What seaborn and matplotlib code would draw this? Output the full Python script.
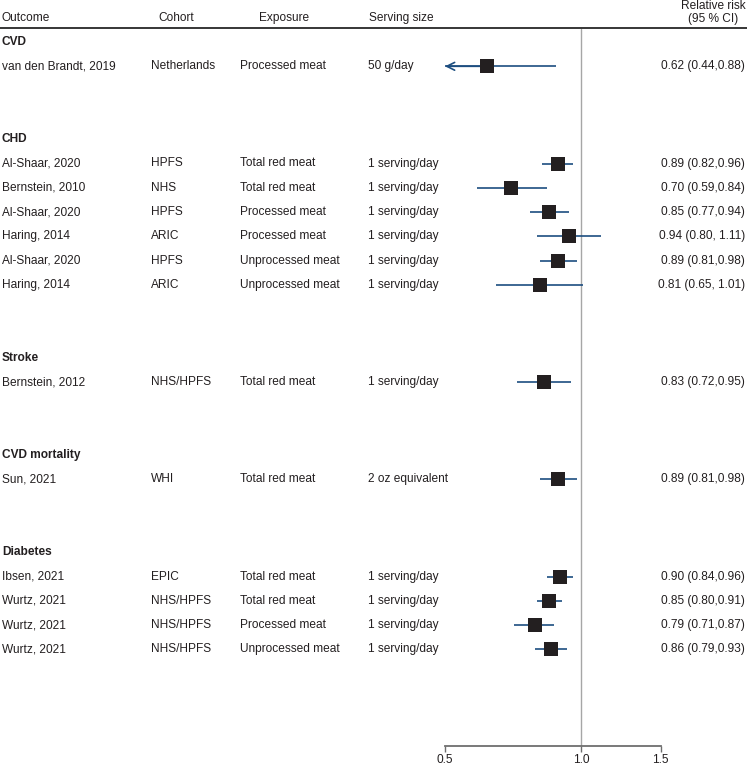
import numpy as np
import pandas as pd
import matplotlib
matplotlib.use("Agg")
import matplotlib.pyplot as plt
import matplotlib.transforms as mtransforms
import seaborn as sns

# datos del forest plot
grupos = ["CVD", "CHD", "Stroke", "CVD mortality", "Diabetes"]
n_por_grupo = [1, 6, 1, 1, 4]
estudios = ["van den Brandt, 2019", "Al-Shaar, 2020", "Bernstein, 2010", "Al-Shaar, 2020",
            "Haring, 2014", "Al-Shaar, 2020", "Haring, 2014", "Bernstein, 2012", "Sun, 2021",
            "Ibsen, 2021", "Wurtz, 2021", "Wurtz, 2021", "Wurtz, 2021"]
cohortes = ["Netherlands", "HPFS", "NHS", "HPFS", "ARIC", "HPFS", "ARIC", "NHS/HPFS", "WHI",
            "EPIC", "NHS/HPFS", "NHS/HPFS", "NHS/HPFS"]
exposiciones = ["Processed meat", "Total red meat", "Total red meat", "Processed meat",
                "Processed meat", "Unprocessed meat", "Unprocessed meat", "Total red meat",
                "Total red meat", "Total red meat", "Total red meat", "Processed meat",
                "Unprocessed meat"]
porciones = ["50 g/day", "1 serving/day", "1 serving/day", "1 serving/day", "1 serving/day",
             "1 serving/day", "1 serving/day", "1 serving/day", "2 oz equivalent",
             "1 serving/day", "1 serving/day", "1 serving/day", "1 serving/day"]
rr = [0.62, 0.89, 0.70, 0.85, 0.94, 0.89, 0.81, 0.83, 0.89, 0.90, 0.85, 0.79, 0.86]
ic_inf = [0.44, 0.82, 0.59, 0.77, 0.80, 0.81, 0.65, 0.72, 0.81, 0.84, 0.80, 0.71, 0.79]
ic_sup = [0.88, 0.96, 0.84, 0.94, 1.11, 0.98, 1.01, 0.95, 0.98, 0.96, 0.91, 0.87, 0.93]
etiquetas_rr = ["0.62 (0.44,0.88)", "0.89 (0.82,0.96)", "0.70 (0.59,0.84)", "0.85 (0.77,0.94)",
                "0.94 (0.80, 1.11)", "0.89 (0.81,0.98)", "0.81 (0.65, 1.01)", "0.83 (0.72,0.95)",
                "0.89 (0.81,0.98)", "0.90 (0.84,0.96)", "0.85 (0.80,0.91)", "0.79 (0.71,0.87)",
                "0.86 (0.79,0.93)"]
ticks_x = [0.5, 1.0, 1.5]

# filas: cabecera de grupo, estudios, y 2 filas vacías
filas_grupo = []
filas = []
r = 0
for n in n_por_grupo:
    filas_grupo.append(r)
    filas += list(range(r + 1, r + 1 + n))
    r = r + 1 + n + 2

df = pd.DataFrame({"estudio": estudios, "cohorte": cohortes, "exposicion": exposiciones,
                   "porcion": porciones, "rr": rr, "lo": ic_inf, "hi": ic_sup,
                   "etiqueta": etiquetas_rr, "fila": filas})

sns.set_theme(style="white")
plt.rcParams["font.family"] = ["Liberation Sans", "DejaVu Sans"]
texto = "#231f20"
azul = "#1d4e80"
fs = 8.6

W, H = 747, 766
fig = plt.figure(figsize=(W / 100, H / 100), dpi=100)
paso = 24.3
y0 = 42
eje_px = 746
ax = fig.add_axes([0, (H - eje_px) / H, 1, eje_px / H])
ax.set_xscale("log")
ax.set_xlim(np.exp(-581 / 196.2), np.exp((W - 581) / 196.2))
y_abajo = (eje_px - y0) / paso
y_arriba = -y0 / paso
ax.set_ylim(y_abajo, y_arriba)

linea_cab = (28 - y0) / paso
trans = mtransforms.blended_transform_factory(ax.transAxes, ax.transData)

# linea de referencia y regla de cabecera
ax.plot([1, 1], [linea_cab + 0.05, y_abajo], color="#a6a6a6", lw=1.0, zorder=1)
ax.plot([0, 1], [linea_cab, linea_cab], color="black", lw=1.1, transform=trans, clip_on=False)

# intervalos de confianza (recortados al eje)
xmin = min(ticks_x)
lo_rec = np.maximum(df["lo"], xmin)
ax.hlines(df["fila"], lo_rec, df["hi"], color=azul, lw=1.2, zorder=2)
for _, f in df[df["lo"] < xmin].iterrows():
    ax.annotate("", xy=(xmin, f["fila"]), xytext=(f["rr"], f["fila"]),
                arrowprops=dict(arrowstyle="->", color=azul, lw=1.2, mutation_scale=14,
                                shrinkA=0, shrinkB=0), zorder=2)

sns.scatterplot(data=df, x="rr", y="fila", marker="s", s=100, color=texto,
                edgecolor=texto, linewidth=0, ax=ax, zorder=3, legend=False)

# columnas de texto
col_x = {"estudio": 2, "cohorte": 151, "exposicion": 240, "porcion": 368}
for _, f in df.iterrows():
    for col, px in col_x.items():
        ax.text(px / W, f["fila"], f[col], transform=trans, ha="left", va="center",
                fontsize=fs, color=texto)
    ax.text(745 / W, f["fila"], f["etiqueta"], transform=trans, ha="right", va="center",
            fontsize=fs, color=texto)
for g, fg in zip(grupos, filas_grupo):
    ax.text(2 / W, fg, g, transform=trans, ha="left", va="center", fontsize=fs,
            fontweight="bold", color=texto)

# cabecera
y_cab = (18 - y0) / paso
for t, px in [("Outcome", 2), ("Cohort", 158), ("Exposure", 259), ("Serving size", 369)]:
    ax.text(px / W, y_cab, t, transform=trans, ha="left", va="center", fontsize=fs, color=texto)
ax.text(713 / W, (6 - y0) / paso, "Relative risk", transform=trans, ha="center", va="center",
        fontsize=fs, color=texto)
ax.text(713 / W, (19 - y0) / paso, "(95 % CI)", transform=trans, ha="center", va="center",
        fontsize=fs, color=texto)

# eje x
for s in ["top", "right", "left"]:
    ax.spines[s].set_visible(False)
ax.spines["bottom"].set_bounds(min(ticks_x), max(ticks_x))
ax.spines["bottom"].set_color("#6e6e6e")
ax.spines["bottom"].set_linewidth(1.3)
ax.set_xticks(ticks_x)
ax.set_xticklabels([f"{t:.1f}" for t in ticks_x])
ax.xaxis.set_minor_locator(matplotlib.ticker.NullLocator())
ax.tick_params(axis="x", bottom=True, length=4, width=1.0, color="#6e6e6e", pad=2,
               labelsize=fs, labelcolor=texto)
ax.set_yticks([])
ax.set_xlabel("")
ax.set_ylabel("")
ax.patch.set_alpha(0)

fig.savefig("out.png", dpi=100)
